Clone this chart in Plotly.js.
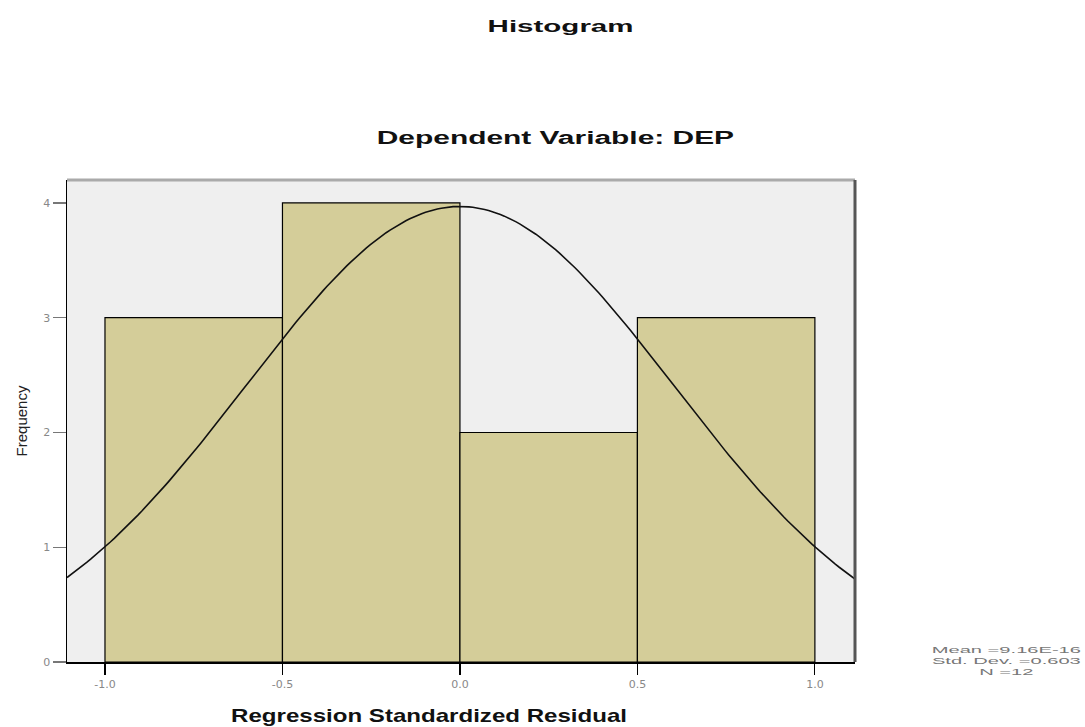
<!DOCTYPE html>
<html>
<head>
<meta charset="utf-8">
<script src="https://cdn.plot.ly/plotly-3.0.1.min.js"></script>
<style>
html,body{margin:0;padding:0;background:#fff;}
#chart{width:1085px;height:727px;}
</style>
</head>
<body>
<div id="chart"></div>
<script>
// Histogram bins (regression standardized residual) and counts
var binCenters = [-0.75, -0.25, 0.25, 0.75];
var binCounts = [3, 4, 2, 3];
var binWidth = 0.5;
var xTickVals = [-1.0, -0.5, 0.0, 0.5, 1.0];
var xTickText = ["-1.0", "-0.5", "0.0", "0.5", "1.0"];
var yTickVals = [0, 1, 2, 3, 4];
// Summary statistics shown in the reference
var statMean = 9.16e-16;
var statSD = 0.603;
var statN = 12;
var statLabels = ["Mean =9.16E-16", "Std. Dev. =0.603", "N =12"];

var xRange = [-1.107, 1.113];
var yRange = [0, 4.2];

// Normal curve implied by the stated mean / std. dev. / N
var curveX = [], curveY = [];
for (var i = 0; i <= 200; i++) {
  var x = xRange[0] + (xRange[1] - xRange[0]) * i / 200;
  var z = (x - statMean) / statSD;
  curveX.push(x);
  curveY.push(statN * binWidth / (statSD * Math.sqrt(2 * Math.PI)) * Math.exp(-0.5 * z * z));
}

var traces = [
  {type: 'bar', x: binCenters, y: binCounts, width: binWidth,
   marker: {color: '#d4cd99', line: {color: '#000', width: 1.2}}, hoverinfo: 'none'},
  {type: 'scatter', mode: 'lines', x: curveX, y: curveY,
   line: {color: '#111', width: 1.6}, hoverinfo: 'none'}
];

var boldFont = 'Liberation Sans, Arial, sans-serif';

var layout = {
  width: 1085, height: 727,
  margin: {l: 67, r: 230, t: 180, b: 65},
  paper_bgcolor: '#fff', plot_bgcolor: '#efefef',
  showlegend: false,
  font: {family: 'Liberation Sans, Arial, sans-serif'},
  xaxis: {range: xRange, tickvals: xTickVals, ticktext: xTickText, ticks: 'outside',
          ticklen: 11, tickcolor: '#000', tickwidth: 1.2, showgrid: false, zeroline: false,
          showline: true, linecolor: '#000', linewidth: 1.5,
          tickfont: {size: 11, color: '#888', family: 'DejaVu Sans, sans-serif'}},
  yaxis: {range: yRange, tickvals: yTickVals, ticks: 'outside', ticklen: 13, tickcolor: '#777',
          tickwidth: 1.2, showgrid: false, zeroline: false,
          showline: true, linecolor: '#000', linewidth: 1.5,
          tickfont: {size: 11, color: '#888', family: 'DejaVu Sans, sans-serif'},
          title: {text: 'Frequency', font: {size: 15, color: '#222'}, standoff: 12}},
  shapes: [
    {type: 'line', xref: 'paper', yref: 'paper', x0: 0, x1: 1, y0: 1, y1: 1, line: {color: '#aaa', width: 3}},
    {type: 'line', xref: 'paper', yref: 'paper', x0: 1, x1: 1, y0: 0, y1: 1, line: {color: '#555', width: 3}}
  ],
  annotations: [
    {text: '<b>Histogram</b>', xref: 'paper', yref: 'paper', x: 0.626, y: 1.318, showarrow: false,
     xanchor: 'center', yanchor: 'middle', font: {size: 16, color: '#111', family: boldFont}},
    {text: '<b>Dependent Variable: DEP</b>', xref: 'paper', yref: 'paper', x: 0.62, y: 1.088, showarrow: false,
     xanchor: 'center', yanchor: 'middle', font: {size: 19, color: '#111', family: boldFont}},
    {text: statLabels.join('<br>'), xref: 'paper', yref: 'paper', x: 1.192, y: 0.003, showarrow: false,
     xanchor: 'center', yanchor: 'middle', align: 'center', font: {size: 8.5, color: '#777', family: 'Liberation Sans, sans-serif'}},
    {text: '<b>Regression Standardized Residual</b>', xref: 'paper', yref: 'paper', x: 0.46, y: -0.112, showarrow: false,
     xanchor: 'center', yanchor: 'middle', font: {size: 18, color: '#111', family: boldFont}}
  ]
};

// target rendered widths (px) of the horizontally stretched texts in the reference
var stretchTargets = {0: 146, 1: 358, 2: 150, 3: 396};

Plotly.newPlot('chart', traces, layout, {displayModeBar: false, staticPlot: true}).then(function () {
  Object.keys(stretchTargets).forEach(function (k) {
    var t = document.querySelector('.annotation[data-index="' + k + '"] text.annotation-text');
    if (!t) return;
    var bb = t.getBBox();
    var s = stretchTargets[k] / bb.width;
    var cx = bb.x + bb.width / 2;
    var prev = t.getAttribute('transform') || '';
    t.setAttribute('transform', 'translate(' + cx + ',0) scale(' + s + ',1) translate(' + (-cx) + ',0) ' + prev);
  });
});
</script>
</body>
</html>
